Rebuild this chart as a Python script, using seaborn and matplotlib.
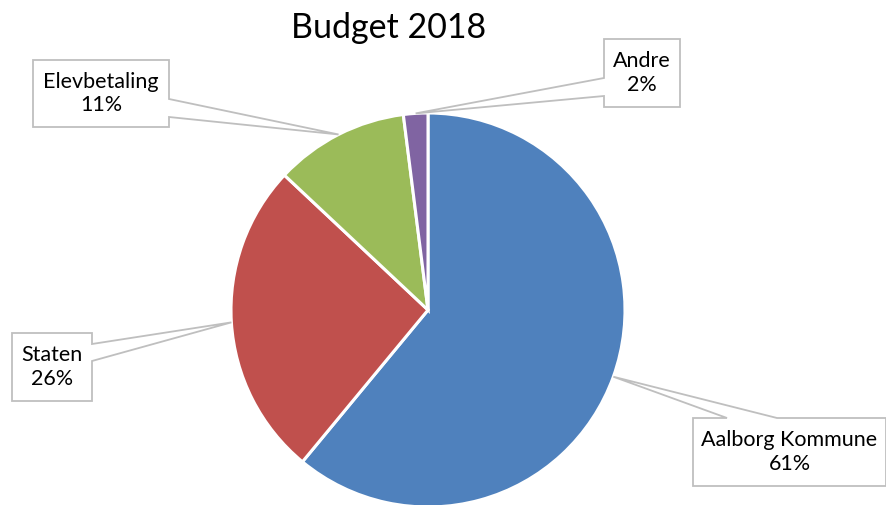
import matplotlib
matplotlib.use("Agg")
import matplotlib.pyplot as plt
import seaborn as sns
import numpy as np
from matplotlib.patches import Polygon

categories = ["Aalborg Kommune", "Staten", "Elevbetaling", "Andre"]
values = [61, 26, 11, 2]
colors = ["#4F81BD", "#C0504D", "#9BBB59", "#8064A2"]
title = "Budget 2018"

sns.set_theme(style="white")
plt.rcParams['font.family'] = ['Lato', 'DejaVu Sans']

W, H = 887, 505
fig = plt.figure(figsize=(W / 100, H / 100), dpi=100)
fig.patch.set_facecolor("white")

# pie axes placed in pixel layout (center ~ (428,310), r ~ 197)
cx, cy, r = 428, 310, 197
ax = fig.add_axes([(cx - r) / W, (H - (cy + r)) / H, 2 * r / W, 2 * r / H])
wedges, _ = ax.pie(values, colors=sns.color_palette(colors), startangle=90, counterclock=False,
                   radius=1.0, wedgeprops=dict(edgecolor="white", linewidth=2.2))
ax.set_xlim(-1, 1)
ax.set_ylim(-1, 1)
ax.set_aspect("equal")
ax.axis("off")

fig.text(389 / W, 1 - 28 / H, title, ha="center", va="center", fontsize=24.5, color="#000000")

def px(x, y):
    return (x / W, 1 - y / H)

# callout layout: box (x0,y0,x1,y1) in pixels from top-left, leader side and attach points
callouts = {
    "Aalborg Kommune": dict(box=(693, 418, 886, 486), side="top", a=(727, 777)),
    "Staten": dict(box=(12, 333, 92, 401), side="right", a=(344, 361)),
    "Elevbetaling": dict(box=(33, 60, 169, 127), side="right", a=(99, 117)),
    "Andre": dict(box=(604, 39, 680, 107), side="left", a=(78, 96)),
}

fig.canvas.draw()
total = sum(values)
cum = 0
inv = fig.transFigure.inverted()
for cat, v in zip(categories, values):
    mid = np.deg2rad(90 - (cum + v / 2) / total * 360)
    cum += v
    tip = inv.transform(ax.transData.transform((np.cos(mid), np.sin(mid))))
    c = callouts[cat]
    x0, y0, x1, y1 = c["box"]
    a1, a2 = c["a"]
    if c["side"] == "top":
        pts = [px(x0, y0), px(a1, y0), tuple(tip), px(a2, y0), px(x1, y0), px(x1, y1), px(x0, y1)]
    elif c["side"] == "right":
        pts = [px(x0, y0), px(x1, y0), px(x1, a1), tuple(tip), px(x1, a2), px(x1, y1), px(x0, y1)]
    else:
        pts = [px(x0, y0), px(x1, y0), px(x1, y1), px(x0, y1), px(x0, a2), tuple(tip), px(x0, a1)]
    poly = Polygon(pts, closed=True, facecolor="white", edgecolor="#BFBFBF", linewidth=1.3,
                   transform=fig.transFigure, zorder=5)
    fig.add_artist(poly)
    fig.text((x0 + x1) / 2 / W, 1 - (y0 + y1) / 2 / H, f"{cat}\n{v}%", ha="center", va="center",
             fontsize=15.5, color="#000000", linespacing=1.2, zorder=6)

fig.savefig("out.png", dpi=100, facecolor="white")
